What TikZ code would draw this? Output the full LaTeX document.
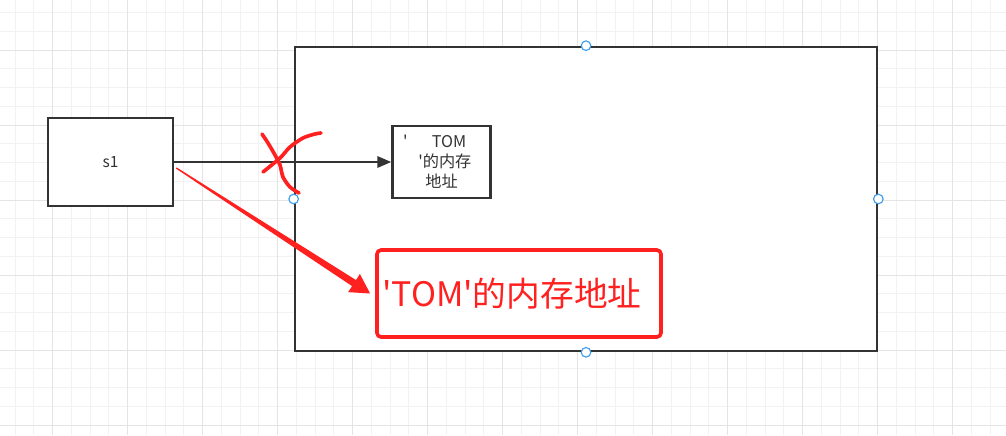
\documentclass[tikz,border=0pt]{standalone}
\usepackage{fontspec}
\newfontfamily\cjkfont{Noto Sans CJK SC}
\usetikzlibrary{arrows.meta, positioning, calc}
\definecolor{inkgray}{HTML}{333333}
\definecolor{markred}{HTML}{FF2020}
\definecolor{handleblue}{HTML}{3D9BF0}
\definecolor{gridminor}{HTML}{F2F2F2}
\definecolor{gridmajor}{HTML}{E4E4E4}

\begin{document}
\begin{tikzpicture}[
    x=0.025cm, y=-0.025cm,
    box/.style={rectangle, draw=inkgray, line width=1.8pt, fill=white,
                inner sep=0pt, align=center, text=inkgray,
                font=\cjkfont\fontsize{11.5}{14.2}\selectfont},
    handle/.style={circle, draw=handleblue, fill=white, line width=0.8pt,
                   minimum size=0.24cm, inner sep=0pt},
    note/.style={rectangle, draw=markred, line width=2.6pt, rounded corners=3pt,
                 inner sep=0pt, text=markred,
                 font=\cjkfont\fontsize{24}{28}\selectfont},
    arr/.style={-{Triangle[length=0.35cm,width=0.28cm]}, draw=inkgray, line width=1.8pt},
    scrawl/.style={draw=markred, line width=2.6pt, line cap=round, line join=round},
]
\useasboundingbox (0,0) rectangle (1006,435);

%% Background grid
\foreach \gx in {0,...,52} \draw[gridminor, line width=0.6pt] ({15+18.75*\gx},0) -- ++(0,435);
\foreach \gy in {0,...,22} \draw[gridminor, line width=0.6pt] (0,{12.5+18.75*\gy}) -- ++(1006,0);
\foreach \gx in {0,...,12} \draw[gridmajor, line width=0.6pt] ({52.5+75*\gx},0) -- ++(0,435);
\foreach \gy in {0,...,5} \draw[gridmajor, line width=0.6pt] (0,{50+75*\gy}) -- ++(1006,0);

%% Frame and boxes
\node[box, minimum width=14.55cm, minimum height=7.6cm] (frame) at (586,199) {};
\node[box, minimum width=3.125cm, minimum height=2.2cm, font=\cjkfont\fontsize{11}{14}\selectfont]
    (s1) at (110.5,162) {s1};
\node[box, minimum width=2.45cm, minimum height=1.8cm, right=5.425cm of s1]
    (addrbox) {\hspace*{-0.35cm}'\hspace{1.5em}TOM\\\hspace*{0.4em}'的内存\\地址};
\node[note, minimum width=7.1cm, minimum height=2.175cm] (addr) at (519,293.5)
    {\hspace{-0.35cm}'TOM'的内存地址};

%% Selection handles
\node[handle] (hn) at (frame.north) {};
\node[handle] (hs) at (frame.south) {};
\node[handle] (hw) at (frame.west)  {};
\node[handle] (he) at (frame.east)  {};

%% Arrows
\draw[arr] (s1) -- (addrbox);
\coordinate (rs) at ($(s1.east)+(2,6)$);
\coordinate (rt) at ($(addr.west)+(-5,0)$);
\coordinate (rb) at ($(rt)!0.48cm!(rs)$);
\fill[markred] ($(rs)!0.5pt!90:(rt)$) -- ($(rb)!0.09cm!90:(rt)$)
    -- ($(rb)!0.27cm!90:(rt)$) -- (rt) -- ($(rb)!0.27cm!-90:(rt)$)
    -- ($(rb)!0.09cm!-90:(rt)$) -- ($(rs)!0.5pt!-90:(rt)$) -- cycle;

%% Cross-out mark
\draw[scrawl] plot[smooth] coordinates {(262,134) (268,143) (275,155) (280,165) (283,177) (290,187) (299,193)};
\draw[scrawl] plot[smooth] coordinates {(321,133) (315,134) (303,138) (290,147) (280,158) (263,172)};
\end{tikzpicture}
\end{document}
